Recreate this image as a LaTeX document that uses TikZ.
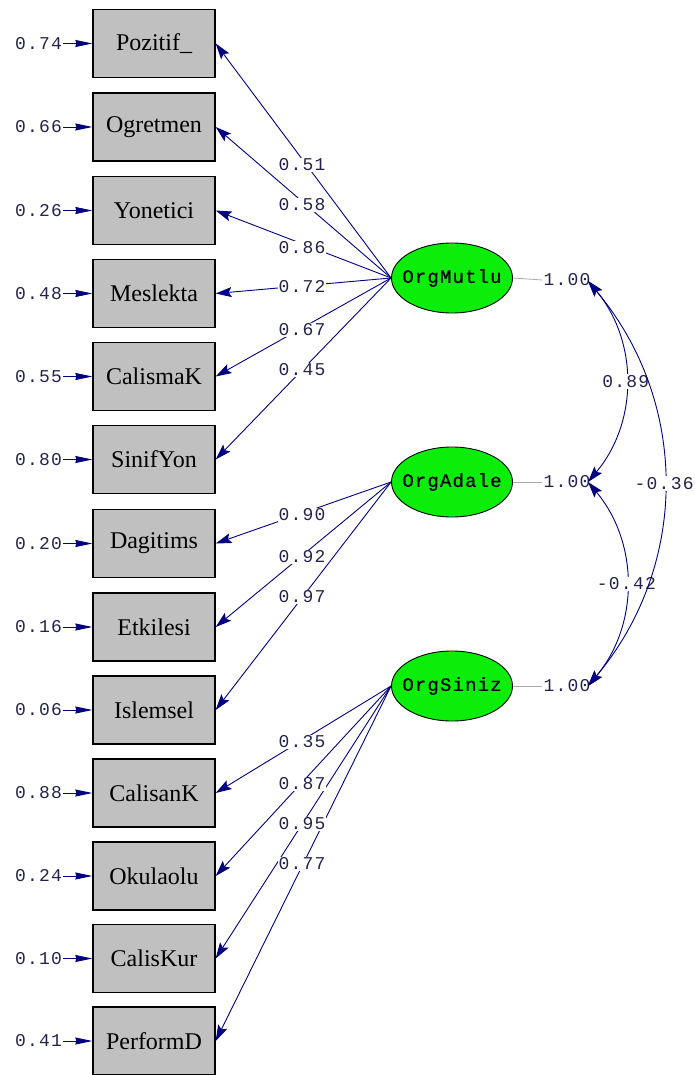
\documentclass[tikz,border=0pt]{standalone}
\usepackage{fontspec}
\setmainfont{Liberation Serif}
\newfontfamily\lisnum[LetterSpace=7]{Liberation Mono}
\newfontfamily\lisname[LetterSpace=6,FakeBold=0.6]{Liberation Mono}
\usetikzlibrary{arrows.meta,shapes.geometric}
\definecolor{pathblue}{RGB}{0,0,128}
\definecolor{boxgray}{RGB}{192,192,192}
\definecolor{latgreen}{RGB}{10,238,10}
\definecolor{numink}{RGB}{35,35,75}
\definecolor{varline}{RGB}{170,170,170}
\begin{document}
\begin{tikzpicture}[x=1pt,y=-1pt,
  obs/.style={draw=black, line width=1.3pt, fill=boxgray, minimum width=122pt,
    minimum height=68pt, inner sep=0pt, font=\fontsize{24}{24}\selectfont},
  lat/.style={ellipse, draw=black, line width=0.9pt, fill=latgreen,
    minimum width=121pt, minimum height=70pt, inner sep=0pt,
    font=\lisname\fontsize{19}{19}\selectfont},
  num/.style={font=\lisnum\fontsize{18}{18}\selectfont, text=numink, inner sep=1pt},
  lab/.style={num, fill=white},
  load/.style={draw=pathblue, line width=0.9pt,
    -{Stealth[length=16pt,width=10pt,inset=3pt]}},
  err/.style={draw=pathblue, line width=0.9pt,
    -{Stealth[length=17pt,width=7pt,inset=1pt]}},
  cov/.style={draw=pathblue, line width=0.9pt,
    {Stealth[length=16pt,width=10pt,inset=3pt]}-{Stealth[length=16pt,width=10pt,inset=3pt]}},
  var/.style={draw=varline, line width=0.8pt},
]
\useasboundingbox (0,0) rectangle (694,1075);

% observed indicators with their error variances
\foreach \i/\y/\t/\e in {
  1/43.5/Pozitif\_/0.74, 2/127/Ogretmen/0.66, 3/210.5/Yonetici/0.26,
  4/293.5/Meslekta/0.48, 5/376.5/CalismaK/0.55, 6/459.5/SinifYon/0.80,
  7/543.5/Dagitims/0.20, 8/627/Etkilesi/0.16, 9/710/Islemsel/0.06,
  10/793/CalisanK/0.88, 11/876/Okulaolu/0.24, 12/958.5/CalisKur/0.10,
  13/1041/PerformD/0.41}{
  \node[obs] (o\i) at (154,\y) {\t};
  \node[num] (e\i) at (38.5,\y) {\e};
  \draw[err] (e\i.east) -- (o\i.west);
}

% latent factors (text kept zero-width so the ellipse keeps its size)
\node[lat] (m) at (452,278) {\makebox[0pt]{OrgMutlu}};
\node[lat] (a) at (452,482) {\makebox[0pt]{OrgAdale}};
\node[lat] (s) at (452,686) {\makebox[0pt]{OrgSiniz}};

% factor variances
\node[num] (vm) at (567,280) {1.00};
\node[num] (va) at (567,482) {1.00};
\node[num] (vs) at (567,686) {1.00};
\draw[var] (m.east) -- (vm.west);
\draw[var] (a.east) -- (va.west);
\draw[var] (s.east) -- (vs.west);

% factor loadings
\foreach \f/\i in {m/1,m/2,m/3,m/4,m/5,m/6,a/7,a/8,a/9,s/10,s/11,s/12,s/13}{
  \draw[load] (\f.west) -- (o\i.east);
}
\foreach \i/\y/\v in {1/165/0.51, 2/205/0.58, 3/248/0.86, 4/287/0.72,
  5/330/0.67, 6/370/0.45, 7/515/0.90, 8/557/0.92, 9/597/0.97,
  10/742/0.35, 11/784/0.87, 12/824/0.95, 13/864/0.77}{
  \node[lab] (l\i) at (302,\y) {\v};
}

% factor covariances
\coordinate (cm) at (588,281);
\coordinate (ca) at (588,482);
\coordinate (cs) at (588,686);
\draw[cov] (cm) to[bend left=40] node[lab, midway] (k1) {0.89} (ca);
\draw[cov] (ca) to[bend left=40] node[lab, midway] (k2) {-0.42} (cs);
\draw[cov] (cm) to[bend left=40] node[lab, midway] (k3) {-0.36} (cs);
\end{tikzpicture}
\end{document}
